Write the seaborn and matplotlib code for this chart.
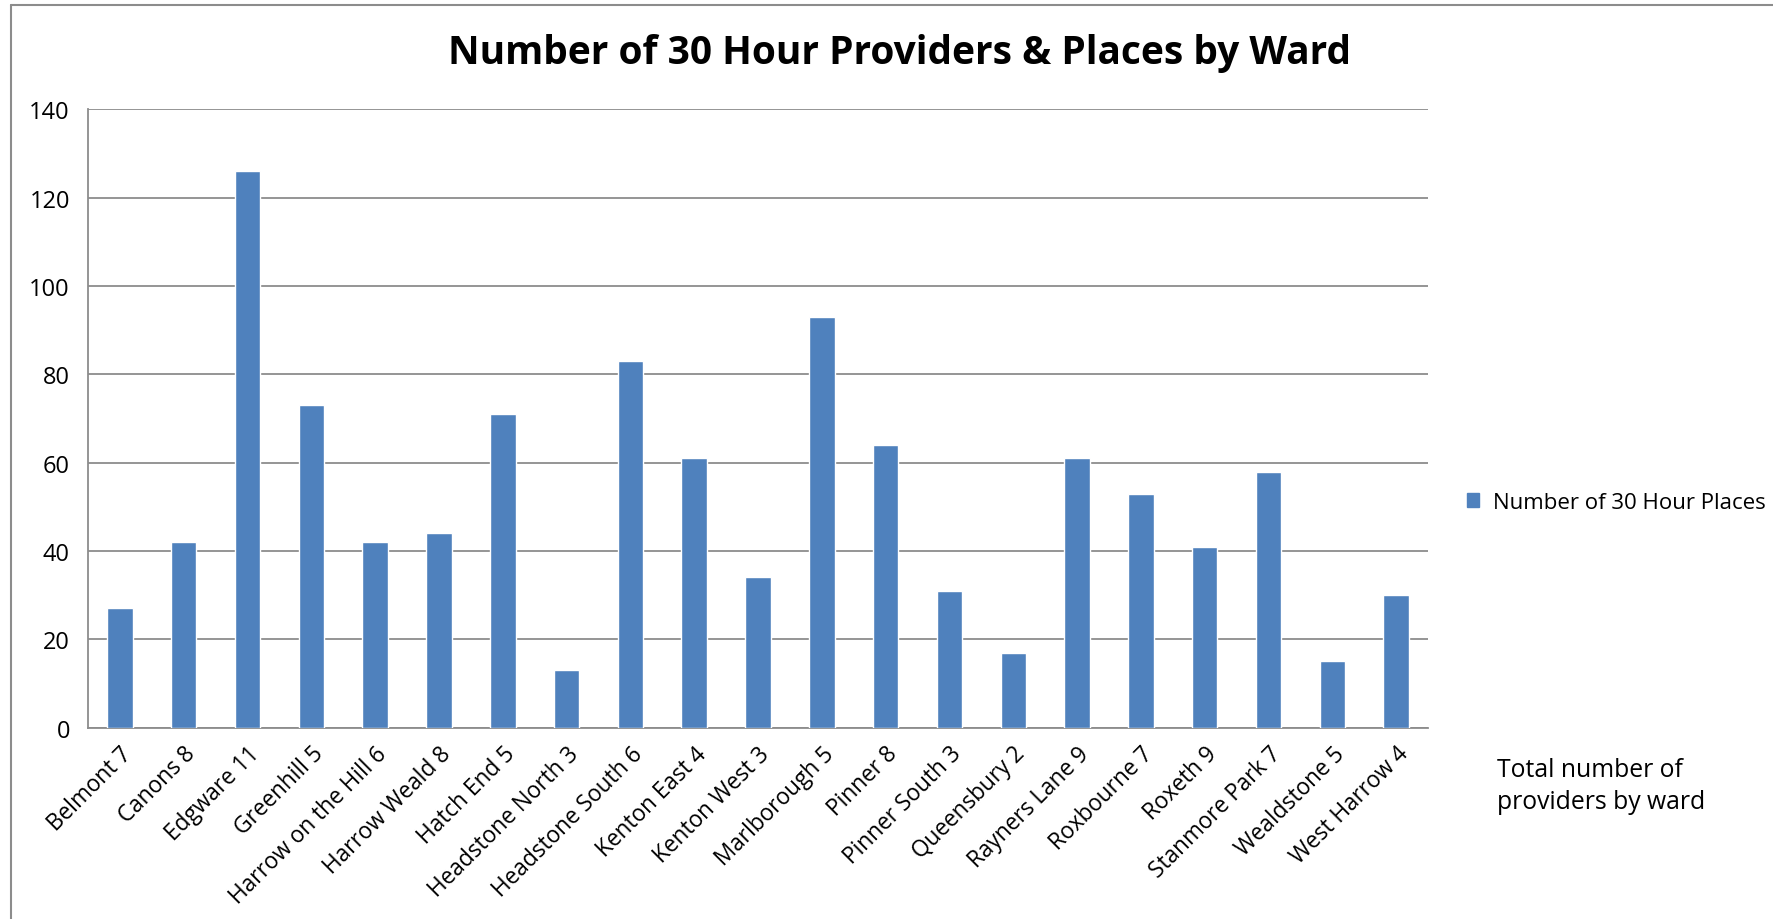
import matplotlib
matplotlib.use("Agg")
import matplotlib.pyplot as plt
import seaborn as sns
import pandas as pd
from matplotlib.patches import Patch

wards = ["Belmont 7", "Canons 8", "Edgware 11", "Greenhill 5", "Harrow on the Hill 6",
         "Harrow Weald 8", "Hatch End 5", "Headstone North 3", "Headstone South 6",
         "Kenton East 4", "Kenton West 3", "Marlborough 5", "Pinner 8", "Pinner South 3",
         "Queensbury 2", "Rayners Lane 9", "Roxbourne 7", "Roxeth 9", "Stanmore Park 7",
         "Wealdstone 5", "West Harrow 4"]
places = [27, 42, 126, 73, 42, 44, 71, 13, 83, 61, 34, 93, 64, 31, 17, 61, 53, 41, 58, 15, 30]
y_ticks = [0, 20, 40, 60, 80, 100, 120, 140]

df = pd.DataFrame({"ward": wards, "places": places})

sns.set_style("white")
plt.rcParams["font.family"] = ["Open Sans", "DejaVu Sans"]
plt.rcParams["text.color"] = "black"
plt.rcParams["xtick.color"] = "black"
plt.rcParams["ytick.color"] = "black"

fig = plt.figure(figsize=(17.74, 9.2), dpi=100)
ax = fig.add_axes([0.0496, 0.208, 0.805 - 0.0496, 0.880 - 0.208])

sns.barplot(data=df, x="ward", y="places", color="#4F81BD", saturation=1,
            width=0.4, ax=ax, zorder=3)

ax.set_ylim(0, 140)
ax.set_xlim(-0.5, len(wards) - 0.5)
ax.set_yticks(y_ticks)
ax.set_yticklabels([str(t) for t in y_ticks], fontsize=17)
ax.yaxis.grid(True, color="#8c8c8c", linewidth=1.3, zorder=0)
ax.set_axisbelow(True)

# category ticks between bars, Excel style
ax.set_xticks(range(len(wards)))
ax.set_xticklabels(wards, rotation=45, ha="right", rotation_mode="anchor", fontsize=16.3)
ax.tick_params(axis="x", length=0, pad=10)
ax.set_xticks([i - 0.5 for i in range(len(wards) + 1)], minor=True)
ax.tick_params(axis="x", which="minor", length=7, width=1.3, color="#8c8c8c", direction="out")
ax.tick_params(axis="y", length=7, width=1.3, color="#8c8c8c", labelcolor="black",
               direction="out", pad=6)
ax.set_xlabel("")
ax.set_ylabel("")

for s in ["top", "right"]:
    ax.spines[s].set_visible(False)
for s in ["left", "bottom"]:
    ax.spines[s].set_color("#8c8c8c")
    ax.spines[s].set_linewidth(1.3)

fig.text(0.507, 0.942, "Number of 30 Hour Providers & Places by Ward",
         ha="center", va="center", fontsize=28, fontweight="bold")

ax.legend(handles=[Patch(color="#4F81BD", label="Number of 30 Hour Places")],
          loc="center left", bbox_to_anchor=(0.827, 0.453), bbox_transform=fig.transFigure,
          frameon=False, fontsize=16, handlelength=0.55, handleheight=0.55,
          handletextpad=0.6, borderpad=0, borderaxespad=0)

fig.text(0.8437, 0.145, "Total number of\nproviders by ward", ha="left", va="center",
         fontsize=17.8, linespacing=1.4)

# outer chart frame (left and top edges visible)
fig.add_artist(plt.Line2D([0.0062, 0.0062], [0, 0.9935], transform=fig.transFigure,
                          color="#8c8c8c", linewidth=1.5))
fig.add_artist(plt.Line2D([0.0062, 1], [0.9935, 0.9935], transform=fig.transFigure,
                          color="#8c8c8c", linewidth=1.5))

fig.savefig("out.png", dpi=100)
